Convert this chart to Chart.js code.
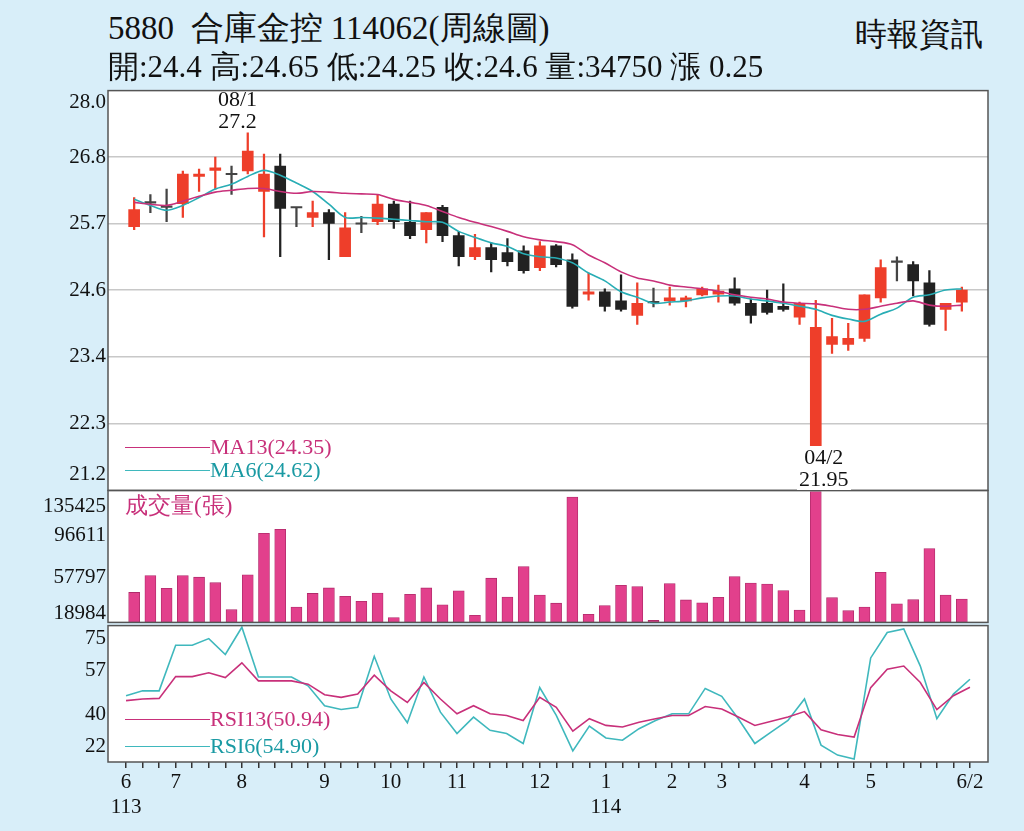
<!DOCTYPE html>
<html><head><meta charset="utf-8">
<script src="https://cdn.jsdelivr.net/npm/chart.js@4.4.0/dist/chart.umd.min.js"></script>
<style>
body{margin:0;background:#d8eef9;width:1024px;height:831px;overflow:hidden;position:relative;font-family:"Liberation Serif","DejaVu Serif",serif;color:#111}
canvas{position:absolute;left:0}
.t{position:absolute;white-space:nowrap;line-height:1}
.ln{position:absolute;height:0;border-top:1.5px solid}
</style></head><body>
<div style="position:absolute;left:0;top:76px"><canvas id="c1" width="990" height="429" style="top:0"></canvas></div>
<div style="position:absolute;left:0;top:476px"><canvas id="c2" width="990" height="161" style="top:0"></canvas></div>
<div style="position:absolute;left:0;top:611px"><canvas id="c3" width="990" height="208" style="top:0"></canvas></div>
<div class="t" style="left:108px;top:12px;font-size:33px">5880&nbsp; 合庫金控 114062(周線圖)</div>
<div class="t" style="left:855px;top:18px;font-size:32px">時報資訊</div>
<div class="t" style="left:108px;top:51px;font-size:31px">開:24.4 高:24.65 低:24.25 收:24.6 量:34750 漲 0.25</div>
<div class="t" style="left:218px;top:88px;font-size:22px;text-align:center">08/1<br>27.2</div>
<div class="t" style="left:797px;top:446px;font-size:22px;text-align:center;background:#fff;padding:0 2px">04/2<br>21.95</div>
<div class="ln" style="left:125px;width:85px;top:447px;border-color:#c8307a"></div>
<div class="t" style="left:210px;top:436px;font-size:22px;color:#c8307a">MA13(24.35)</div>
<div class="ln" style="left:125px;width:85px;top:470px;border-color:#3fb8bd"></div>
<div class="t" style="left:210px;top:459px;font-size:22px;color:#1a9aa3">MA6(24.62)</div>
<div class="t" style="left:125px;top:494px;font-size:23px;color:#c8307a">成交量(張)</div>
<div class="ln" style="left:125px;width:85px;top:719px;border-color:#c8307a"></div>
<div class="t" style="left:210px;top:708px;font-size:22px;color:#c8307a">RSI13(50.94)</div>
<div class="ln" style="left:125px;width:85px;top:746px;border-color:#3fb8bd"></div>
<div class="t" style="left:210px;top:735px;font-size:22px;color:#1a9aa3">RSI6(54.90)</div>
<script>
const opens  =[25.65,26.05,25.98,26.03,26.48,26.58,26.52,26.57,26.23,26.65,25.97,25.80,25.88,25.15,25.70,25.73,26.02,25.72,25.60,25.97,25.50,25.15,25.30,25.22,25.25,24.97,25.33,25.10,24.53,24.57,24.42,24.18,24.40,24.42,24.42,24.52,24.53,24.62,24.38,24.38,24.33,24.15,21.95,23.70,23.70,23.80,24.47,25.07,25.02,24.72,24.28,24.40];
const closes =[25.93,26.05,25.98,26.52,26.52,26.62,26.52,26.90,26.52,25.95,25.97,25.88,25.70,25.63,25.70,26.02,25.73,25.50,25.88,25.50,25.15,25.30,25.10,25.07,24.92,25.33,25.02,24.33,24.57,24.33,24.28,24.38,24.40,24.47,24.47,24.62,24.58,24.38,24.18,24.23,24.28,24.38,23.98,23.83,23.80,24.52,24.97,25.07,24.75,24.03,24.38,24.60];
const highs  =[26.13,26.18,26.27,26.57,26.60,26.80,26.65,27.20,26.85,26.85,25.97,26.07,25.93,25.88,25.82,26.17,26.07,26.07,25.88,26.00,25.57,25.52,25.38,25.45,25.33,25.40,25.35,25.20,24.88,24.62,24.85,24.72,24.63,24.65,24.50,24.65,24.68,24.80,24.45,24.60,24.70,24.40,24.43,24.13,24.05,24.52,25.10,25.15,25.07,24.92,24.38,24.65];
const lows   =[25.60,25.88,25.73,25.80,26.23,26.27,26.18,26.52,25.48,25.15,25.65,25.65,25.10,25.15,25.55,25.68,25.62,25.45,25.38,25.40,25.00,25.10,24.90,25.00,24.88,24.92,24.98,24.30,24.43,24.25,24.25,24.03,24.32,24.35,24.32,24.50,24.40,24.35,24.05,24.20,24.25,24.03,21.95,23.55,23.60,23.75,24.40,24.75,24.50,24.00,23.93,24.25];
const ma13   =[26.05,26.02,26.00,26.07,26.15,26.22,26.25,26.28,26.28,26.23,26.20,26.23,26.22,26.20,26.19,26.18,26.10,26.05,26.00,25.90,25.80,25.72,25.65,25.57,25.48,25.43,25.40,25.35,25.18,25.05,24.90,24.80,24.75,24.68,24.65,24.62,24.58,24.52,24.48,24.45,24.40,24.38,24.37,24.33,24.28,24.28,24.33,24.38,24.42,24.35,24.33,24.35];
const ma6    =[26.10,26.00,25.92,26.00,26.13,26.27,26.35,26.48,26.58,26.50,26.37,26.23,26.02,25.80,25.80,25.79,25.77,25.75,25.73,25.72,25.57,25.47,25.38,25.32,25.20,25.15,25.13,25.05,24.88,24.75,24.57,24.48,24.38,24.40,24.42,24.47,24.50,24.50,24.45,24.42,24.38,24.33,24.28,24.18,24.12,24.08,24.20,24.30,24.48,24.52,24.60,24.62];
const volume =[41940,60250,46490,60250,58450,52520,23220,60990,106060,110290,26070,40880,46810,37710,32420,41200,14750,39830,46810,28510,43630,17190,57390,36970,70080,39090,30300,145200,18240,27770,49660,48290,11580,51460,33800,30620,36650,59190,52100,51040,44060,22900,151200,36230,22160,26070,63740,29560,34110,89550,39090,34750];
const rsi13  =[44.4,45.2,45.5,56.2,56.2,58.1,55.7,63.0,54.1,54.1,54.1,52.5,47.3,46.0,47.6,56.9,49.2,43.5,53.3,45.2,37.9,41.9,37.9,37.1,34.6,46.0,41.1,29.4,35.5,32.2,31.4,33.8,35.5,37.1,37.1,41.5,40.3,36.3,32.2,34.2,36.3,39.0,30.1,27.7,26.5,50.8,59.8,61.4,53.3,40.0,46.8,50.94];
const rsi6   =[46.8,49.2,49.2,71.6,71.6,74.9,67.1,80.5,56.0,56.0,56.0,51.7,41.9,40.0,41.1,66.2,45.2,33.5,56.0,38.7,28.2,36.3,29.8,28.2,23.3,50.8,37.1,19.7,31.9,26.0,24.9,30.6,34.6,37.9,37.9,50.4,46.5,35.5,23.3,29.0,34.6,45.2,22.5,17.6,15.7,65.4,77.9,79.7,61.4,35.5,47.6,54.90];
const priceTicks=[[27.7,"28.0"],[26.8,"26.8"],[25.7,"25.7"],[24.6,"24.6"],[23.5,"23.4"],[22.383,"22.3"],[21.55,"21.2"]];
const volTicks=[[135364,"135425"],[103624,"96611"],[58130,"57797"],[18984,"18984"]];
const rsiTicks=[[75,"75"],[59,"57"],[37.6,"40"],[22,"22"]];
const monthLabels={0:["6","113"],3:"7",7:"8",12:"9",16:"10",20:"11",25:"12",29:["1","114"],33:"2",36:"3",41:"4",45:"5",51:"6/2"};

const N=opens.length, XMIN=-1.09, XMAX=N-1+1.09;
const RED='#ee3e2a', BLK='#222222', DOJI='#444444';
const candleCol=opens.map((o,i)=>Math.abs(closes[i]-o)<0.005?DOJI:(closes[i]>o?RED:BLK));
const font={family:'"Liberation Serif",serif',size:21};
const bg={id:'bg',beforeDraw(c){const a=c.chartArea,x=c.ctx;x.save();x.fillStyle='#fff';x.fillRect(a.left,a.top,a.right-a.left,a.bottom-a.top);x.restore();},
 afterDraw(c){const a=c.chartArea,x=c.ctx;x.save();x.strokeStyle='#555';x.lineWidth=1.5;x.strokeRect(a.left,a.top,a.right-a.left,a.bottom-a.top);x.restore();}};
function yAxis(min,max,ticks,grid){return{type:'linear',min,max,
  afterBuildTicks:s=>{s.ticks=ticks.map(t=>({value:t[0]}));},
  afterFit:s=>{s.width=108;},
  ticks:{autoSkip:false,font,color:'#111',padding:2,callback:(v)=>{const t=ticks.find(t=>Math.abs(t[0]-v)<1e-6);return t?t[1]:'';}},
  grid:{display:grid,drawTicks:false,color:(ctx)=>ctx.index===0||ctx.index===ticks.length-1?'rgba(0,0,0,0)':'#c8c8c8',lineWidth:1.5},border:{display:false}};}
function xAxis(show){return{type:'linear',min:XMIN,max:XMAX,display:show,
  afterBuildTicks:s=>{s.ticks=Array.from({length:N},(_,i)=>({value:i}));},
  afterFit:s=>{if(show)s.height=57;},
  ticks:{autoSkip:false,maxRotation:0,font,color:'#111',padding:2,callback:v=>monthLabels[v]!==undefined?monthLabels[v]:''},
  grid:{drawOnChartArea:false,drawTicks:true,tickLength:6,color:'#333',lineWidth:1.5},border:{display:false}};}
const common={responsive:false,animation:false,devicePixelRatio:1,plugins:{legend:{display:false},tooltip:{enabled:false}},layout:{padding:{right:2,top:0,bottom:0,left:0}}};
const idx=Array.from({length:N},(_,i)=>i);

new Chart(document.getElementById('c1'),{data:{datasets:[
 {type:'line',data:idx.map(i=>({x:i,y:ma13[i]})),borderColor:'#c8307a',borderWidth:1.6,pointRadius:0,tension:0.3,order:0},
 {type:'line',data:idx.map(i=>({x:i,y:ma6[i]})),borderColor:'#28adb5',borderWidth:1.6,pointRadius:0,tension:0.3,order:0},
 {type:'bar',data:idx.map(i=>({x:i,y:[lows[i],highs[i]]})),backgroundColor:candleCol,barThickness:1.6,grouped:false,order:2},
 {type:'bar',data:idx.map(i=>{const o=opens[i],c=closes[i];return{x:i,y:Math.abs(c-o)<0.02?[Math.min(o,c)-0.012,Math.max(o,c)+0.012]:[o,c]};}),backgroundColor:candleCol,barThickness:11,grouped:false,order:1}
]},options:{...common,scales:{x:xAxis(false),y:yAxis(21.283,27.9,priceTicks,true)}},plugins:[bg]});

new Chart(document.getElementById('c2'),{type:'bar',data:{datasets:[
 {data:idx.map(i=>({x:i,y:volume[i]})),backgroundColor:'#e2408c',borderColor:'#b02a6a',borderWidth:0.8,barThickness:11}
]},options:{...common,scales:{x:xAxis(false),y:yAxis(9460,152300,volTicks,false)}},plugins:[bg]});

new Chart(document.getElementById('c3'),{type:'line',data:{datasets:[
 {data:idx.map(i=>({x:i,y:rsi13[i]})),borderColor:'#c8307a',borderWidth:1.6,pointRadius:0},
 {data:idx.map(i=>({x:i,y:rsi6[i]})),borderColor:'#3fb8bd',borderWidth:1.6,pointRadius:0}
]},options:{...common,clip:false,scales:{x:xAxis(true),y:yAxis(14.2,81.3,rsiTicks,false)}},plugins:[bg]});
</script></body></html>
